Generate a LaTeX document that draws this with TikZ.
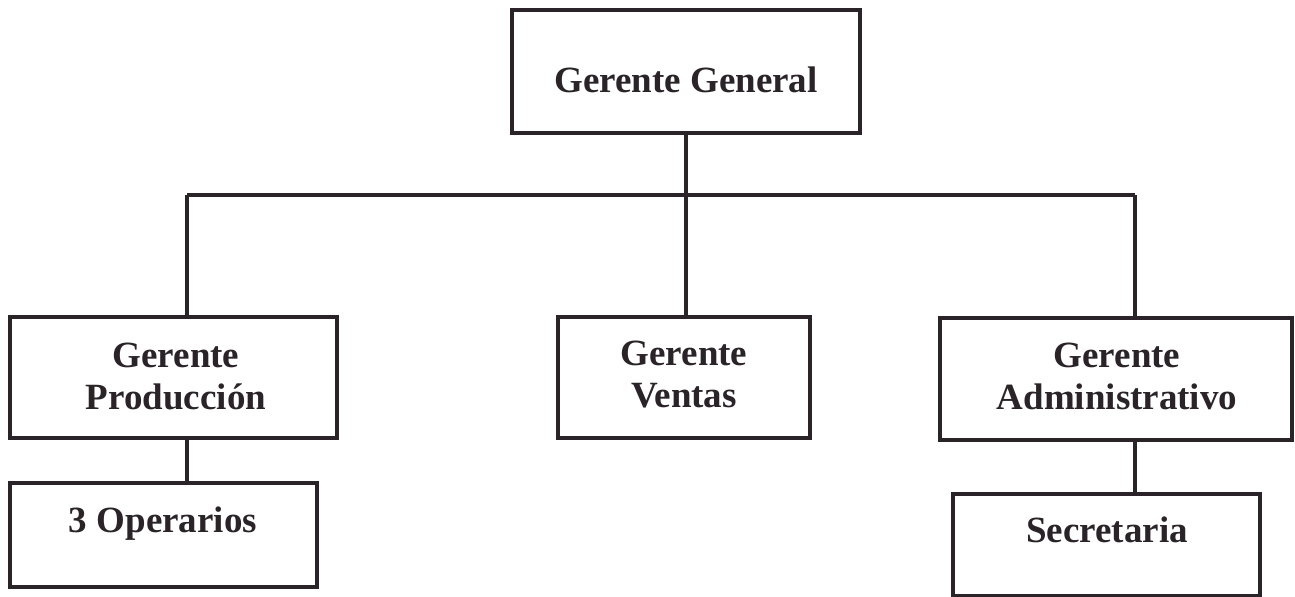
\documentclass[tikz,border=0pt]{standalone}
\usepackage{fontspec}
\setmainfont{Liberation Serif}
\definecolor{ink}{HTML}{2A2428}
\begin{document}
\begin{tikzpicture}[x=0.5pt,y=-0.5pt,
  box/.style={draw=ink,line width=2.2pt,rectangle,inner sep=0pt,fill=white},
  lbl/.style={text=ink,font=\fontsize{18.5}{21}\selectfont\bfseries,align=center,inner sep=0pt},
  conn/.style={draw=ink,line width=2.2pt}]
\useasboundingbox (0,0) rectangle (1295,597);
\fill[white] (0,0) rectangle (1295,597);
% boxes
\node[box,minimum width=174pt,minimum height=61.5pt] (gg) at (686,71.5) {};
\node[box,minimum width=163.5pt,minimum height=60.5pt] (gp) at (173.5,377.5) {};
\node[box,minimum width=126pt,minimum height=60.5pt] (gv) at (684,377.5) {};
\node[box,minimum width=176pt,minimum height=61pt] (ga) at (1116,379) {};
\node[box,minimum width=153.5pt,minimum height=52pt] (op) at (163.5,535) {};
\node[box,minimum width=153.5pt,minimum height=51pt] (se) at (1106.5,545) {};
% labels
\node[lbl] (tgg) at (686,80) {Gerente General};
\node[lbl] (tgp) at (176,376) {Gerente\\Producción};
\node[lbl] (tgv) at (684,375) {Gerente\\Ventas};
\node[lbl] (tga) at (1117,376) {Gerente\\Administrativo};
\node[lbl] (top) at (163,524) {3 Operarios};
\node[lbl] (tse) at (1107,530) {Secretaria};
% connectors
\coordinate (jl) at (187,195);
\coordinate (jc) at (686,195);
\coordinate (jr) at (1135,195);
\draw[conn] (gg.south) -- (jc);
\draw[conn] (jl) -- (jr);
\draw[conn] (jl) -- (jl |- gp.north);
\draw[conn] (jc) -- (jc |- gv.north);
\draw[conn] (jr) -- (jr |- ga.north);
\draw[conn] (jl |- gp.south) -- (jl |- op.north);
\draw[conn] (jr |- ga.south) -- (jr |- se.north);
\end{tikzpicture}
\end{document}
